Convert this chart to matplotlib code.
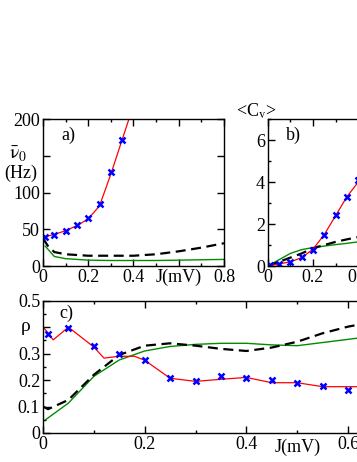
import matplotlib
matplotlib.use('Agg')
import matplotlib.pyplot as plt
import matplotlib.ticker as ticker

plt.rcParams['font.family'] = 'Liberation Serif'
plt.rcParams['mathtext.fontset'] = 'stix'
plt.rcParams['font.size'] = 13

# panel a: mean rate (Hz) vs J
a_red_x = [0, 0.05, 0.1, 0.15, 0.2, 0.25, 0.3, 0.35, 0.38, 0.4]
a_red_y = [39, 43, 48, 55, 64, 82, 125, 172, 200, 225]
a_mark_x = [0.01, 0.05, 0.1, 0.15, 0.2, 0.25, 0.3, 0.35]
a_mark_y = [39.5, 42.3, 47.7, 56.4, 65.5, 84, 127.7, 171]
a_black_x = [0, 0.02, 0.05, 0.1, 0.2, 0.3, 0.4, 0.5, 0.6, 0.7, 0.8]
a_black_y = [38, 28, 19, 16, 14, 14, 14, 16, 20, 25, 31]
a_green_x = [0.01, 0.05, 0.1, 0.2, 0.3, 0.4, 0.5, 0.6, 0.7, 0.8]
a_green_y = [27, 13, 10, 8, 7.5, 7.5, 7.5, 8, 8.5, 9]

# panel b: <C_v> vs J
b_red_x = [0, 0.05, 0.1, 0.15, 0.2, 0.25, 0.3, 0.35, 0.4, 0.45]
b_red_y = [0, 0.1, 0.2, 0.4, 0.8, 1.5, 2.4, 3.3, 4.0, 4.8]
b_mark_x = [0.01, 0.05, 0.1, 0.15, 0.2, 0.25, 0.3, 0.35, 0.4]
b_mark_y = [0.03, 0.11, 0.19, 0.43, 0.75, 1.49, 2.44, 3.3, 4.1]
b_black_x = [0, 0.05, 0.1, 0.15, 0.2, 0.25, 0.3, 0.35, 0.4, 0.45]
b_black_y = [0, 0.2, 0.4, 0.6, 0.85, 1.0, 1.15, 1.27, 1.38, 1.48]
b_green_x = [0, 0.05, 0.1, 0.15, 0.2, 0.25, 0.3, 0.35, 0.4, 0.45]
b_green_y = [0, 0.3, 0.6, 0.78, 0.88, 0.95, 1.02, 1.08, 1.15, 1.2]

# panel c: rho vs J
c_red_x = [0, 0.02, 0.05, 0.1, 0.12, 0.15, 0.18, 0.2, 0.25, 0.3, 0.35, 0.4, 0.45, 0.5, 0.55, 0.6, 0.65]
c_red_y = [0.402, 0.352, 0.40, 0.325, 0.283, 0.29, 0.29, 0.275, 0.207, 0.195, 0.203, 0.21, 0.19, 0.19, 0.175, 0.175, 0.175]
c_mark_x = [0.01, 0.05, 0.1, 0.15, 0.2, 0.25, 0.3, 0.35, 0.4, 0.45, 0.5, 0.55, 0.6]
c_mark_y = [0.373, 0.398, 0.327, 0.299, 0.276, 0.207, 0.197, 0.214, 0.207, 0.201, 0.188, 0.178, 0.163]
c_black_x = [0, 0.01, 0.05, 0.1, 0.15, 0.2, 0.25, 0.3, 0.35, 0.4, 0.45, 0.5, 0.55, 0.6, 0.65]
c_black_y = [0.10, 0.09, 0.125, 0.22, 0.295, 0.33, 0.339, 0.33, 0.318, 0.31, 0.323, 0.345, 0.377, 0.402, 0.42]
c_green_x = [0.005, 0.05, 0.1, 0.15, 0.2, 0.25, 0.3, 0.35, 0.4, 0.45, 0.5, 0.55, 0.6, 0.65]
c_green_y = [0.05, 0.113, 0.214, 0.276, 0.31, 0.327, 0.335, 0.339, 0.339, 0.333, 0.33, 0.342, 0.354, 0.366]

RED = '#ff0000'
GREEN = '#008c00'
BLUE = '#0000ff'

fmt_g = ticker.FuncFormatter(lambda v, p: '%g' % round(v, 6))


def style(ax, xmaj, xmin, ymaj, ymin):
    ax.xaxis.set_major_locator(ticker.MultipleLocator(xmaj))
    ax.xaxis.set_minor_locator(ticker.MultipleLocator(xmin))
    ax.yaxis.set_major_locator(ticker.MultipleLocator(ymaj))
    if ymin:
        ax.yaxis.set_minor_locator(ticker.MultipleLocator(ymin))
    ax.xaxis.set_major_formatter(fmt_g)
    ax.yaxis.set_major_formatter(fmt_g)
    ax.tick_params(which='both', direction='in', top=True, right=True, labelsize=13, pad=2)
    ax.tick_params(which='major', length=5, width=1)
    ax.tick_params(which='minor', length=2.5, width=1)
    for s in ax.spines.values():
        s.set_linewidth(1)


def curves(ax, rx, ry, mx, my, bx, by, gx, gy):
    ax.plot(gx, gy, color=GREEN, lw=1.0)
    ax.plot(bx, by, color='k', lw=1.6, dashes=(4.5, 2.5))
    ax.plot(rx, ry, color=RED, lw=0.9)
    ax.plot(mx, my, ls='none', marker='x', color=BLUE, ms=5, mew=1.8)


fig = plt.figure(figsize=(3.57, 4.62), dpi=100)

# a)
ax1 = fig.add_axes([0.1204, 0.4242, 0.507, 0.3182])
curves(ax1, a_red_x, a_red_y, a_mark_x, a_mark_y, a_black_x, a_black_y, a_green_x, a_green_y)
ax1.set_xlim(0, 0.8)
ax1.set_ylim(0, 200)
style(ax1, 0.2, 0.1, 50, None)
ax1.set_xticks([0, 0.2, 0.4, 0.6, 0.8])
ax1.set_xticklabels(['0', '0.2', '0.4', 'J(mV)', '0.8'])
ax1.set_yticks([0, 50, 100, 150, 200])
ax1.set_yticklabels(['0', '50', '100', '', '200'])
ax1.text(0.1, 0.86, 'a)', transform=ax1.transAxes, fontsize=13)
fig.text(0.025, 0.655, r'$\bar{\mathrm{\nu}}_0$', fontsize=14)
fig.text(0.012, 0.615, '(Hz)', fontsize=13)

# b)
ax2 = fig.add_axes([0.750, 0.4242, 0.507, 0.3182])
curves(ax2, b_red_x, b_red_y, b_mark_x, b_mark_y, b_black_x, b_black_y, b_green_x, b_green_y)
ax2.set_xlim(0, 0.8)
ax2.set_ylim(0, 7)
style(ax2, 0.2, 0.1, 2, 1)
ax2.text(0.1, 0.86, 'b)', transform=ax2.transAxes, fontsize=13)
fig.text(0.662, 0.748, r'<C$_{\rm v}$>', fontsize=13)

# c)
ax3 = fig.add_axes([0.1204, 0.0628, 1.1395, 0.2863])
curves(ax3, c_red_x, c_red_y, c_mark_x, c_mark_y, c_black_x, c_black_y, c_green_x, c_green_y)
ax3.set_xlim(0, 0.8)
ax3.set_ylim(0, 0.5)
style(ax3, 0.2, 0.1, 0.1, 0.05)
ax3.set_yticks([0, 0.1, 0.2, 0.3, 0.4, 0.5])
ax3.set_yticklabels(['0', '0.1', '0.2', '0.3', '', '0.5'])
ax3.text(0.04, 0.87, 'c)', transform=ax3.transAxes, fontsize=13)
ax3.text(0.5, -0.045, 'J(mV)', transform=ax3.get_xaxis_transform(), ha='center', va='top', fontsize=13)
fig.text(0.058, 0.283, 'ρ', fontsize=14)

fig.savefig('out.png', dpi=100)
